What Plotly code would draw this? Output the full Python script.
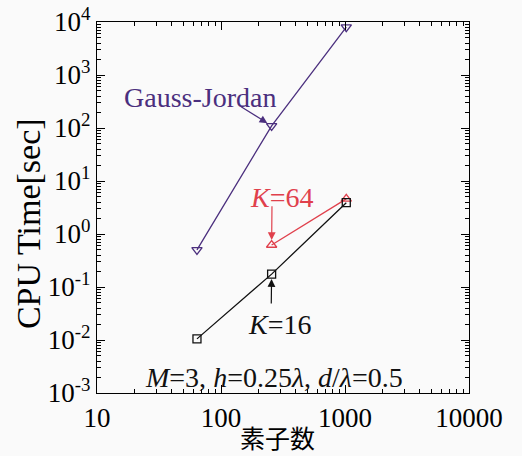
import math
import plotly.graph_objects as go

# ---- data ----
elements = [64, 256, 1024]
gauss_jordan = [0.5, 110, 8000]
k64_x = [256, 1024]
k64 = [0.62, 4.6]
k16 = [0.0105, 0.175, 3.9]

x_tickvals = [10, 100, 1000, 10000]
x_ticktext = ["10", "100", "1000", "10000"]
y_tickvals = [1e-3, 1e-2, 1e-1, 1e0, 1e1, 1e2, 1e3, 1e4]
y_ticktext = ["10<sup>-3</sup>", "10<sup>-2</sup>", "10<sup>-1</sup>", "10<sup>0</sup>",
              "10<sup>1</sup>", "10<sup>2</sup>", "10<sup>3</sup>", "10<sup>4</sup>"]

PURPLE = "#4b2f7e"
RED = "#e0404c"
BLACK = "#111111"
FONT = "Liberation Serif"

fig = go.Figure()
fig.add_trace(go.Scatter(x=elements, y=gauss_jordan, mode="lines+markers",
                         line=dict(color=PURPLE, width=1.3),
                         marker=dict(symbol="triangle-down-open", size=9, color=PURPLE, line=dict(width=1.3)),
                         name="Gauss-Jordan"))
fig.add_trace(go.Scatter(x=k64_x, y=k64, mode="lines+markers",
                         line=dict(color=RED, width=1.3),
                         marker=dict(symbol="triangle-up-open", size=9, color=RED, line=dict(width=1.3)),
                         name="K=64"))
fig.add_trace(go.Scatter(x=elements, y=k16, mode="lines+markers",
                         line=dict(color=BLACK, width=1.3),
                         marker=dict(symbol="square-open", size=8, color=BLACK, line=dict(width=1.3)),
                         name="K=16"))

minor_x = [k * 10 ** e for e in range(1, 4) for k in range(2, 10)]
minor_y = [k * 10.0 ** e for e in range(-3, 4) for k in range(2, 10)]

axis_common = dict(type="log", showgrid=False, zeroline=False, showline=True,
                   linecolor="black", linewidth=1.3, mirror="allticks", automargin=False,
                   ticks="inside", ticklen=8, tickwidth=1.2, tickcolor="black",
                   tickfont=dict(family=FONT, size=27, color="black"))

fig.update_xaxes(range=[1, 4], tickvals=x_tickvals, ticktext=x_ticktext,
                 minor=dict(tickvals=minor_x, ticks="inside", ticklen=4, tickwidth=1, tickcolor="black"),
                 **axis_common)
fig.update_yaxes(range=[-3, 4], tickvals=y_tickvals, ticktext=y_ticktext,
                 minor=dict(tickvals=minor_y, ticks="inside", ticklen=4, tickwidth=1, tickcolor="black"),
                 **axis_common)

# axis titles
fig.add_annotation(xref="paper", yref="paper", x=-0.1855, y=0.458, text="CPU Time[sec]",
                   textangle=-90, showarrow=False, xanchor="center", yanchor="middle",
                   font=dict(family=FONT, size=34, color="black"))
fig.add_annotation(xref="paper", yref="paper", x=0.484, y=-0.1186, text="素子数",
                   showarrow=False, xanchor="center", yanchor="middle",
                   font=dict(family="Noto Sans CJK JP", size=25, color="black"))

L = math.log10
annos = [
    dict(x=1.83, y=2.585, text="Gauss-Jordan", font=dict(color=PURPLE)),
    dict(x=2.485, y=0.68, text="<i>K</i>=64", font=dict(color=RED)),
    dict(x=2.47, y=-1.70, text="<i>K</i>=16", font=dict(color=BLACK)),
    dict(x=2.43, y=-2.70, text="<i>M</i>=3, <i>h</i>=0.25<i>λ</i>, <i>d</i>/<i>λ</i>=0.5", font=dict(color=BLACK)),
]
for a in annos:
    a["font"].update(family=FONT, size=28)
    fig.add_annotation(xref="x", yref="y", showarrow=False, **a)

arrows = [
    (L(256), L(gauss_jordan[1]), 2.15, 2.42, PURPLE),
    (L(256), L(k64[0]), L(256) + 0.003, 0.55, RED),
    (L(256), L(k16[1]), L(256) - 0.003, -1.34, BLACK),
]
for hx, hy, tx, ty, col in arrows:
    fig.add_annotation(x=hx, y=hy, ax=tx, ay=ty, xref="x", yref="y", axref="x", ayref="y",
                       text="", showarrow=True, arrowhead=2, arrowsize=1.3, arrowwidth=1.2,
                       arrowcolor=col, standoff=5)

fig.update_layout(width=522, height=456, margin=dict(l=97, r=53, t=22, b=63, autoexpand=False),
                  paper_bgcolor="#fafafa", plot_bgcolor="#fafafa", showlegend=False)

fig.write_html("out.html", config={"displayModeBar": False},
               post_script="document.body.style.margin='0';document.body.style.background='#fafafa';")
